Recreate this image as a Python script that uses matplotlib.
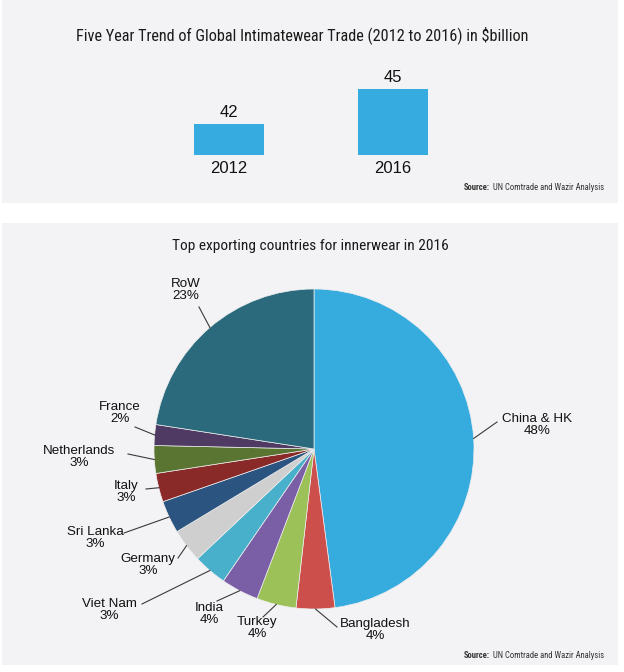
import numpy as np
import matplotlib
matplotlib.use('Agg')
import matplotlib.pyplot as plt
from matplotlib import font_manager as fm
from matplotlib.patches import Rectangle
from matplotlib.text import Annotation

# top chart data
years = ['2012', '2016']
trade = [42, 45]

# pie data (slice sizes, labels as printed)
countries = ['China & HK', 'Bangladesh', 'Turkey', 'India', 'Viet Nam', 'Germany',
             'Sri Lanka', 'Italy', 'Netherlands', 'France', 'RoW']
shares = [48.0, 3.9, 4.0, 3.8, 3.4, 3.4, 3.3, 2.9, 2.8, 2.1, 22.6]
share_labels = ['48%', '4%', '4%', '4%', '3%', '3%', '3%', '3%', '3%', '2%', '23%']
colors = ['#36abde', '#cc4f4c', '#9cc158', '#7b5fa6', '#49b0cc', '#cfcfcf',
          '#2b5580', '#8a2a28', '#5a7431', '#4e3a62', '#2a6a7c']

# label layout in pixels: text centre, leader line end
label_pos = [(537, 425), (375, 630), (257, 628), (209, 614), (109, 610), (148, 565),
             (95, 538), (126, 492), (79, 457), (120, 413), (186, 290)]
line_end = [(497, 422), (337, 627), (263, 617), (217, 601), (142, 604), (178, 558),
            (124, 533), (146, 489), (128, 454), (135, 427), (199, 307)]

W, H = 624, 672
BG = '#f3f3f5'
SANS = ['Liberation Sans', 'DejaVu Sans']


def pick_condensed():
    # a narrow face for the titles, whatever is installed
    fonts = fm.fontManager.ttflist
    for f in fonts:
        if f.name in ('Liberation Sans Narrow', 'Roboto Condensed', 'Open Sans Condensed'):
            return f.name, 'normal'
    for f in fonts:
        if f.name in ('DejaVu Sans', 'Roboto', 'Open Sans', 'Noto Sans') and \
                f.stretch in ('condensed', 'semi-condensed', 'extra-condensed'):
            return f.name, f.stretch
    return 'Liberation Sans', 'normal'


COND, STRETCH = pick_condensed()


def fx(x):
    return x / W


def fy(y):
    return 1 - y / H


fig = plt.figure(figsize=(W / 100, H / 100), dpi=100)
fig.patch.set_facecolor('white')
renderer = fig.canvas.get_renderer()


def fit(t, width):
    # scale font so the text spans the same width as in the reference
    w = t.get_window_extent(renderer).width
    t.set_fontsize(t.get_fontsize() * width / w)


# panel backgrounds
fig.patches.append(Rectangle((fx(2), fy(203)), fx(616), 203 / H, transform=fig.transFigure,
                             facecolor=BG, edgecolor='none', zorder=-5))
fig.patches.append(Rectangle((fx(2), fy(665)), fx(616), 442 / H, transform=fig.transFigure,
                             facecolor=BG, edgecolor='none', zorder=-5))

# ---- bar chart ----
t1 = fig.text(fx(302), fy(35), r'Five Year Trend of Global Intimatewear Trade (2012 to 2016) in \$billion',
              ha='center', va='center', fontsize=13, family=COND, fontstretch=STRETCH, color='#1a1a1a')
fit(t1, 451)

ax = fig.add_axes([fx(147), fy(155), fx(328), 95 / H])
ax.set_facecolor('none')
bars = ax.bar(range(len(years)), trade, width=0.427, color='#35abdf')
ax.set_xlim(-0.5, 1.5)
ax.set_ylim(39.3, 39.3 + 95 / 11.5)
ax.bar_label(bars, padding=3, fontsize=12, family=SANS, color='#111111')
ax.set_xticks(range(len(years)))
ax.set_xticklabels(years, fontsize=12, family=SANS, color='#111111')
ax.tick_params(length=0, pad=4)
ax.set_yticks([])
for s in ax.spines.values():
    s.set_visible(False)


def source(y):
    t = fig.text(fx(604), fy(y), 'UN Comtrade and Wazir Analysis', ha='right', va='center',
                 fontsize=6.5, family=COND, fontstretch=STRETCH, color='#333333')
    fit(t, 112)
    fig.add_artist(Annotation('Source:', xy=(0, 0.5), xycoords=t,
                              xytext=(-2, 0), textcoords='offset points',
                              ha='right', va='center', fontsize=t.get_fontsize(),
                              family=COND, fontstretch=STRETCH, fontweight='bold',
                              color='#333333'))


source(187)

# ---- pie chart ----
t2 = fig.text(fx(310), fy(246), 'Top exporting countries for innerwear in 2016',
              ha='center', va='center', fontsize=13, family=COND, fontstretch=STRETCH, color='#1a1a1a')
fit(t2, 276)

R = 160
CX, CY = 314, 449
pax = fig.add_axes([fx(CX - R), fy(CY + R), 2 * R / W, 2 * R / H])
wedges, _ = pax.pie(shares, colors=colors, startangle=90, counterclock=False,
                    wedgeprops=dict(edgecolor='#eeeeee', linewidth=0.5))
pax.set_xlim(-1, 1)
pax.set_ylim(-1, 1)
pax.set_aspect('equal')
pax.axis('off')

for w, name, pct, (tx, ty), (lx, ly) in zip(wedges, countries, share_labels, label_pos, line_end):
    ang = np.deg2rad((w.theta1 + w.theta2) / 2)
    x0, y0 = np.cos(ang), np.sin(ang)
    x1, y1 = (lx - CX) / R, (CY - ly) / R
    pax.plot([x0, x1], [y0, y1], color='#3a3a3a', lw=0.8, clip_on=False)
    pax.text((tx - CX) / R, (CY - ty) / R, name + '\n' + pct, ha='center', va='center',
             fontsize=9.6, family=SANS, color='#111111', linespacing=1.0, clip_on=False)

source(655)

fig.savefig('out.png', dpi=100, facecolor='white')
